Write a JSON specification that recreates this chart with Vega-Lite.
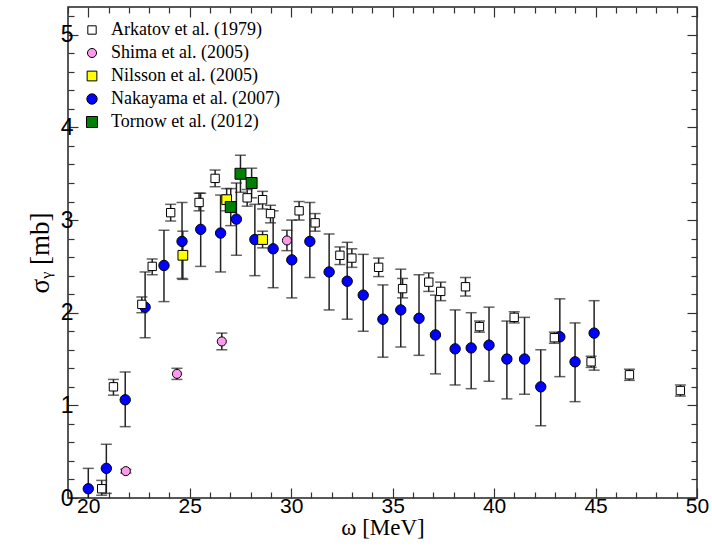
{
  "$schema": "https://vega.github.io/schema/vega-lite/v6.json",
  "width": 629,
  "height": 491,
  "autosize": {"type": "none"},
  "padding": {"left": 68, "top": 7, "right": 15, "bottom": 51},
  "config": {
    "view": {"stroke": "#222", "strokeWidth": 1.5},
    "axis": {
      "domain": false, "grid": false, "tickColor": "#333", "tickWidth": 1.2,
      "labelFont": "Liberation Sans", "labelFontSize": 22, "labelColor": "#000",
      "titleFont": "Liberation Serif", "titleFontSize": 26, "titleFontWeight": "normal", "titleColor": "#000"
    }
  },
  "data": {"values": [
    {"series": "Nakayama et al. (2007)", "w": 20.00, "s": 0.10, "lo": -0.12, "hi": 0.32},
    {"series": "Nakayama et al. (2007)", "w": 20.89, "s": 0.32, "lo": 0.05, "hi": 0.58},
    {"series": "Nakayama et al. (2007)", "w": 21.82, "s": 1.06, "lo": 0.77, "hi": 1.36},
    {"series": "Nakayama et al. (2007)", "w": 22.80, "s": 2.06, "lo": 1.73, "hi": 2.44},
    {"series": "Nakayama et al. (2007)", "w": 23.73, "s": 2.51, "lo": 2.12, "hi": 2.89},
    {"series": "Nakayama et al. (2007)", "w": 24.62, "s": 2.77, "lo": 2.37, "hi": 3.19},
    {"series": "Nakayama et al. (2007)", "w": 25.54, "s": 2.90, "lo": 2.50, "hi": 3.29},
    {"series": "Nakayama et al. (2007)", "w": 26.52, "s": 2.86, "lo": 2.44, "hi": 3.27},
    {"series": "Nakayama et al. (2007)", "w": 27.30, "s": 3.01, "lo": 2.62, "hi": 3.40},
    {"series": "Nakayama et al. (2007)", "w": 28.21, "s": 2.79, "lo": 2.40, "hi": 3.17},
    {"series": "Nakayama et al. (2007)", "w": 29.11, "s": 2.69, "lo": 2.27, "hi": 3.10},
    {"series": "Nakayama et al. (2007)", "w": 30.03, "s": 2.57, "lo": 2.16, "hi": 3.00},
    {"series": "Nakayama et al. (2007)", "w": 30.92, "s": 2.77, "lo": 2.38, "hi": 3.19},
    {"series": "Nakayama et al. (2007)", "w": 31.87, "s": 2.44, "lo": 2.03, "hi": 2.85},
    {"series": "Nakayama et al. (2007)", "w": 32.76, "s": 2.34, "lo": 1.93, "hi": 2.76},
    {"series": "Nakayama et al. (2007)", "w": 33.55, "s": 2.19, "lo": 1.80, "hi": 2.63},
    {"series": "Nakayama et al. (2007)", "w": 34.52, "s": 1.93, "lo": 1.52, "hi": 2.30},
    {"series": "Nakayama et al. (2007)", "w": 35.40, "s": 2.03, "lo": 1.63, "hi": 2.47},
    {"series": "Nakayama et al. (2007)", "w": 36.30, "s": 1.94, "lo": 1.54, "hi": 2.41},
    {"series": "Nakayama et al. (2007)", "w": 37.11, "s": 1.76, "lo": 1.34, "hi": 2.19},
    {"series": "Nakayama et al. (2007)", "w": 38.08, "s": 1.61, "lo": 1.22, "hi": 2.03},
    {"series": "Nakayama et al. (2007)", "w": 38.87, "s": 1.62, "lo": 1.18, "hi": 2.00},
    {"series": "Nakayama et al. (2007)", "w": 39.75, "s": 1.65, "lo": 1.26, "hi": 2.06},
    {"series": "Nakayama et al. (2007)", "w": 40.63, "s": 1.50, "lo": 1.07, "hi": 1.91},
    {"series": "Nakayama et al. (2007)", "w": 41.50, "s": 1.50, "lo": 1.12, "hi": 1.95},
    {"series": "Nakayama et al. (2007)", "w": 42.30, "s": 1.20, "lo": 0.78, "hi": 1.60},
    {"series": "Nakayama et al. (2007)", "w": 43.24, "s": 1.74, "lo": 1.31, "hi": 2.15},
    {"series": "Nakayama et al. (2007)", "w": 43.99, "s": 1.47, "lo": 1.04, "hi": 1.89},
    {"series": "Nakayama et al. (2007)", "w": 44.93, "s": 1.78, "lo": 1.38, "hi": 2.13},
    {"series": "Arkatov et al. (1979)", "w": 20.66, "s": 0.10, "lo": 0.03, "hi": 0.19},
    {"series": "Arkatov et al. (1979)", "w": 21.24, "s": 1.20, "lo": 1.11, "hi": 1.28},
    {"series": "Arkatov et al. (1979)", "w": 22.64, "s": 2.09, "lo": 2.00, "hi": 2.17},
    {"series": "Arkatov et al. (1979)", "w": 23.15, "s": 2.50, "lo": 2.41, "hi": 2.58},
    {"series": "Arkatov et al. (1979)", "w": 24.06, "s": 3.08, "lo": 2.99, "hi": 3.17},
    {"series": "Arkatov et al. (1979)", "w": 25.46, "s": 3.19, "lo": 3.10, "hi": 3.29},
    {"series": "Arkatov et al. (1979)", "w": 26.25, "s": 3.45, "lo": 3.36, "hi": 3.54},
    {"series": "Arkatov et al. (1979)", "w": 27.83, "s": 3.24, "lo": 3.15, "hi": 3.33},
    {"series": "Arkatov et al. (1979)", "w": 28.59, "s": 3.22, "lo": 3.12, "hi": 3.31},
    {"series": "Arkatov et al. (1979)", "w": 28.98, "s": 3.07, "lo": 2.97, "hi": 3.16},
    {"series": "Arkatov et al. (1979)", "w": 30.39, "s": 3.10, "lo": 3.00, "hi": 3.20},
    {"series": "Arkatov et al. (1979)", "w": 31.18, "s": 2.97, "lo": 2.88, "hi": 3.07},
    {"series": "Arkatov et al. (1979)", "w": 32.40, "s": 2.62, "lo": 2.52, "hi": 2.71},
    {"series": "Arkatov et al. (1979)", "w": 32.99, "s": 2.59, "lo": 2.49, "hi": 2.69},
    {"series": "Arkatov et al. (1979)", "w": 34.31, "s": 2.49, "lo": 2.39, "hi": 2.59},
    {"series": "Arkatov et al. (1979)", "w": 35.49, "s": 2.26, "lo": 2.16, "hi": 2.37},
    {"series": "Arkatov et al. (1979)", "w": 36.78, "s": 2.33, "lo": 2.23, "hi": 2.43},
    {"series": "Arkatov et al. (1979)", "w": 37.37, "s": 2.23, "lo": 2.13, "hi": 2.33},
    {"series": "Arkatov et al. (1979)", "w": 38.59, "s": 2.28, "lo": 2.18, "hi": 2.38},
    {"series": "Arkatov et al. (1979)", "w": 39.28, "s": 1.85, "lo": 1.79, "hi": 1.91},
    {"series": "Arkatov et al. (1979)", "w": 40.99, "s": 1.95, "lo": 1.89, "hi": 2.01},
    {"series": "Arkatov et al. (1979)", "w": 42.97, "s": 1.73, "lo": 1.67, "hi": 1.79},
    {"series": "Arkatov et al. (1979)", "w": 44.78, "s": 1.47, "lo": 1.41, "hi": 1.53},
    {"series": "Arkatov et al. (1979)", "w": 46.67, "s": 1.33, "lo": 1.27, "hi": 1.39},
    {"series": "Arkatov et al. (1979)", "w": 49.18, "s": 1.16, "lo": 1.10, "hi": 1.22},
    {"series": "Shima et al. (2005)", "w": 21.85, "s": 0.29, "lo": 0.27, "hi": 0.31},
    {"series": "Shima et al. (2005)", "w": 24.37, "s": 1.34, "lo": 1.28, "hi": 1.40},
    {"series": "Shima et al. (2005)", "w": 26.58, "s": 1.69, "lo": 1.60, "hi": 1.78},
    {"series": "Shima et al. (2005)", "w": 29.79, "s": 2.78, "lo": 2.67, "hi": 2.89},
    {"series": "Nilsson et al. (2005)", "w": 24.66, "s": 2.62, "lo": 2.36, "hi": 2.88},
    {"series": "Nilsson et al. (2005)", "w": 26.82, "s": 3.22, "lo": 3.10, "hi": 3.34},
    {"series": "Nilsson et al. (2005)", "w": 28.59, "s": 2.79, "lo": 2.70, "hi": 2.88},
    {"series": "Tornow et al. (2012)", "w": 27.02, "s": 3.14, "lo": 2.94, "hi": 3.34},
    {"series": "Tornow et al. (2012)", "w": 27.50, "s": 3.50, "lo": 3.30, "hi": 3.70},
    {"series": "Tornow et al. (2012)", "w": 28.05, "s": 3.40, "lo": 3.24, "hi": 3.56}
  ]},
  "resolve": {"axis": {"x": "independent", "y": "independent"}},
  "layer": [
    {
      "mark": {"type": "rule", "color": "#222", "strokeWidth": 1.5, "clip": true},
      "encoding": {
        "x": {"field": "w", "type": "quantitative", "scale": {"domain": [19, 50], "nice": false, "zero": false},
          "axis": {"orient": "bottom", "values": [20, 25, 30, 35, 40, 45, 50], "tickSize": -10, "labelFlush": false, "labelFontSize": 21, "labelPadding": 7, "title": "ω [MeV]", "titleFontSize": 23, "titlePadding": 0}},
        "y": {"field": "lo", "type": "quantitative", "scale": {"domain": [0, 5.3], "nice": false, "zero": false},
          "axis": {"orient": "left", "values": [0, 1, 2, 3, 4, 5], "tickSize": -10, "labelFontSize": 23, "labelPadding": 5, "title": "σᵧ [mb]", "titleFontSize": 27, "titlePadding": 6}},
        "y2": {"field": "hi"}
      }
    },
    {
      "mark": {"type": "tick", "orient": "horizontal", "size": 11, "thickness": 1.5, "color": "#222", "clip": true},
      "encoding": {
        "x": {"field": "w", "type": "quantitative",
          "axis": {"orient": "top", "values": [20, 25, 30, 35, 40, 45, 50], "tickSize": -10, "labels": false, "title": null}},
        "y": {"field": "lo", "type": "quantitative",
          "axis": {"orient": "right", "values": [0, 1, 2, 3, 4, 5], "tickSize": -10, "labels": false, "title": null}}
      }
    },
    {
      "mark": {"type": "tick", "orient": "horizontal", "size": 11, "thickness": 1.5, "color": "#222", "clip": true},
      "encoding": {
        "x": {"field": "w", "type": "quantitative",
          "axis": {"orient": "bottom", "values": [19, 21, 22, 23, 24, 26, 27, 28, 29, 31, 32, 33, 34, 36, 37, 38, 39, 41, 42, 43, 44, 46, 47, 48, 49], "tickSize": -6, "labels": false, "title": null}},
        "y": {"field": "hi", "type": "quantitative",
          "axis": {"orient": "left", "values": [0.2, 0.4, 0.6, 0.8, 1.2, 1.4, 1.6, 1.8, 2.2, 2.4, 2.6, 2.8, 3.2, 3.4, 3.6, 3.8, 4.2, 4.4, 4.6, 4.8, 5.2], "tickSize": -6, "labels": false, "title": null}}
      }
    },
    {
      "mark": {"type": "point", "filled": true, "stroke": "black", "strokeWidth": 1, "opacity": 1},
      "encoding": {
        "x": {"field": "w", "type": "quantitative",
          "axis": {"orient": "top", "values": [19, 21, 22, 23, 24, 26, 27, 28, 29, 31, 32, 33, 34, 36, 37, 38, 39, 41, 42, 43, 44, 46, 47, 48, 49], "tickSize": -6, "labels": false, "title": null}},
        "y": {"field": "s", "type": "quantitative",
          "axis": {"orient": "right", "values": [0.2, 0.4, 0.6, 0.8, 1.2, 1.4, 1.6, 1.8, 2.2, 2.4, 2.6, 2.8, 3.2, 3.4, 3.6, 3.8, 4.2, 4.4, 4.6, 4.8, 5.2], "tickSize": -6, "labels": false, "title": null}},
        "shape": {"field": "series", "type": "nominal",
          "scale": {"domain": ["Arkatov et al. (1979)", "Shima et al. (2005)", "Nilsson et al. (2005)", "Nakayama et al. (2007)", "Tornow et al. (2012)"], "range": ["square", "circle", "square", "circle", "square"]},
          "legend": {"orient": "none", "legendX": 15, "legendY": 14, "title": null, "padding": 0, "labelFont": "Liberation Serif", "labelFontSize": 18, "labelColor": "#000", "labelLimit": 400, "rowPadding": 5, "labelOffset": 10, "symbolStrokeColor": "black", "symbolStrokeWidth": 1}},
        "fill": {"field": "series", "type": "nominal",
          "scale": {"domain": ["Arkatov et al. (1979)", "Shima et al. (2005)", "Nilsson et al. (2005)", "Nakayama et al. (2007)", "Tornow et al. (2012)"], "range": ["#ffffff", "#ff99ee", "#ffff00", "#0000ff", "#008000"]}},
        "size": {"field": "series", "type": "nominal",
          "scale": {"domain": ["Arkatov et al. (1979)", "Shima et al. (2005)", "Nilsson et al. (2005)", "Nakayama et al. (2007)", "Tornow et al. (2012)"], "range": [70, 120, 120, 150, 120]}}
      }
    }
  ]
}
